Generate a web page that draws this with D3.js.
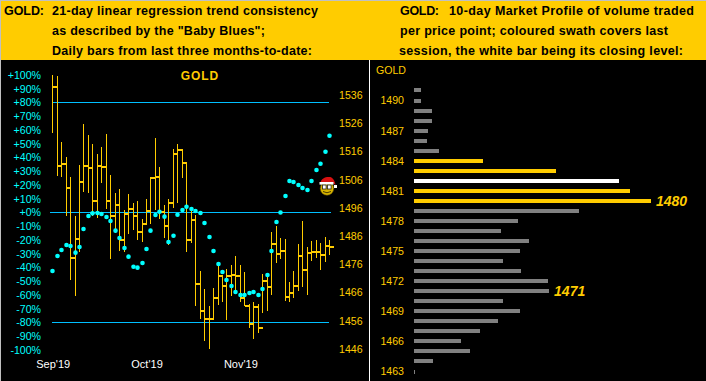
<!DOCTYPE html>
<html><head><meta charset="utf-8">
<script src="https://cdn.jsdelivr.net/npm/d3@7"></script>
<style>html,body{margin:0;padding:0;background:#000;overflow:hidden}svg{display:block}text{font-family:"Liberation Sans",Arial,sans-serif}</style>
</head><body><div id="c"></div>
<script>
const highs=[1543.1,1542.7,1519.3,1514.0,1506.9,1493.1,1511.2,1525.7,1521.8,1518.6,1515.1,1517.6,1522.2,1507.6,1501.3,1502.7,1495.2,1500.9,1497.7,1498.4,1492.1,1499.1,1506.8,1520.8,1510.5,1497.0,1499.1,1516.8,1518.6,1516.8,1511.4,1495.6,1493.5,1473.6,1467.2,1461.2,1467.5,1475.4,1471.6,1474.2,1475.8,1478.9,1475.8,1473.3,1461.8,1462.6,1461.8,1472.5,1472.7,1487.4,1489.6,1485.2,1484.9,1469.7,1473.6,1483.2,1491.3,1482.1,1484.3,1484.6,1483.5,1485.7,1484.6];
const lows=[1522.6,1507.3,1506.9,1493.2,1470.4,1464.9,1480.5,1501.7,1501.4,1493.1,1492.3,1504.9,1495.6,1478.0,1487.1,1480.8,1480.5,1486.7,1488.2,1484.6,1484.0,1490.7,1490.4,1495.2,1492.1,1485.4,1482.8,1496.1,1497.7,1506.5,1480.5,1483.7,1461.3,1456.6,1448.9,1446.1,1456.4,1461.6,1462.7,1456.3,1464.9,1466.3,1462.5,1461.2,1453.5,1449.5,1451.8,1458.9,1459.5,1465.1,1476.6,1478.0,1463.1,1462.7,1464.0,1466.6,1468.0,1465.1,1477.2,1478.2,1474.0,1476.8,1479.3];
const closes=[1538.9,1510.9,1511.5,1503.2,1478.3,1485.0,1505.2,1510.8,1510.2,1498.5,1510.9,1510.6,1498.5,1493.1,1497.1,1484.7,1493.9,1495.6,1493.1,1487.6,1490.3,1495.0,1506.7,1507.1,1494.6,1489.7,1497.8,1515.0,1516.6,1511.9,1484.7,1491.8,1469.0,1459.5,1456.6,1456.6,1464.2,1471.9,1468.4,1472.0,1472.2,1471.9,1464.2,1461.3,1454.9,1461.0,1453.5,1470.1,1468.0,1483.2,1479.7,1480.8,1464.5,1465.9,1468.3,1478.9,1474.1,1480.0,1480.5,1480.5,1479.3,1482.5,1482.2];
const babyBlues=[-42.5,-31.6,-27.3,-23.6,-24.4,-29.2,-25.1,-12,-2.5,-0.6,-0.4,-1.1,-3.3,-6.2,-13.2,-18.5,-25.8,-32.1,-39.4,-40.1,-36.7,-26.5,-13.2,-1.8,0.6,-3,-21.5,-16.9,-1.6,1.8,4.2,2.5,1.1,-0.4,-7.6,-17.8,-28,-37.5,-43.3,-49.1,-53.5,-57.8,-60,-60,-58.5,-57.8,-60,-55.6,-45.5,-28,-6.9,0,12,22.9,22.2,20,17.8,16.4,22.9,30.9,35.5,44.2,55.8];
const pctTicks=d3.range(-100,101,10);
const priceTicks=[1446,1456,1466,1476,1486,1496,1506,1516,1526,1536];
const refLevels=[80,0,-80];
const monthLabels=[["Sep'19",0],["Oct'19",21],["Nov'19",42]];
const profilePrices=d3.range(1491,1462,-1);
const profileVolume=[3,3,7.6,7.6,5.9,5.5,10.5,29.1,59.9,86.5,91.1,100,69.6,43.9,36.7,48.5,44.7,37.6,45.1,56.5,57,37.6,44.7,35.4,27.8,19.8,23.6,8,0.4];
const lastSession=[1484,1483,1481,1480];
const closeLevel=1482;
const profileTicks=[1490,1487,1484,1481,1478,1475,1472,1469,1466,1463];
const callouts=[1480,1471];
const headerLeft=["21-day linear regression trend consistency","as described by the \"Baby Blues\";","Daily bars from last three months-to-date:"];
const headerRight=["10-day Market Profile of volume traded","per price point; coloured swath covers last","session, the white bar being its closing level:"];

const YEL="#ffcc00",CY="#00ffff",LN="#00bfff";
const svg=d3.select("#c").append("svg").attr("width",706).attr("height",381);
svg.append("rect").attr("width",706).attr("height",381).attr("fill","#000");
svg.append("rect").attr("width",706).attr("height",60).attr("fill",YEL);
svg.append("rect").attr("width",706).attr("height",1).attr("fill","#c0c0c0");
svg.append("rect").attr("width",1).attr("height",381).attr("fill","#c0c0c0");
svg.append("rect").attr("x",369).attr("y",60).attr("width",1).attr("height",321).attr("fill","#fff");

// headers
const hdr=(x,y,t,len)=>svg.append("text").attr("x",x).attr("y",y).attr("font-size",12.5).attr("font-weight","bold").attr("fill","#000").attr("textLength",len).attr("lengthAdjust","spacing").text(t);
hdr(4,15,"GOLD:",40);
hdr(52,15,headerLeft[0],266);
hdr(52,35,headerLeft[1],213);
hdr(52,55,headerLeft[2],260);
hdr(400,15,"GOLD:",39);
hdr(449,15,headerRight[0],245);
hdr(400,35,headerRight[1],268);
hdr(399,55,headerRight[2],284);

// left panel scales
const x=d3.scaleLinear().domain([0,62]).range([52.7,329.7]);
const px=i=>Math.floor(x(i))+0.5;
const yP=d3.scaleLinear().domain([1536,1446]).range([95,349]);
const yPct=d3.scaleLinear().domain([100,-100]).range([75,350]);

// axes
const gl=svg.append("g").attr("transform","translate(41,0)").call(d3.axisLeft(yPct).tickValues(pctTicks).tickSize(0).tickPadding(0).tickFormat(d=>(d>=0?"+":"")+d+"%"));
gl.select(".domain").remove();
gl.selectAll("text").attr("fill",CY).attr("font-size",10.6).attr("font-family","Liberation Sans");
const gr=svg.append("g").attr("transform","translate(339,0)").call(d3.axisRight(yP).tickValues(priceTicks).tickSize(0).tickPadding(0).tickFormat(d3.format("d")));
gr.select(".domain").remove();
gr.selectAll("text").attr("fill",YEL).attr("font-size",10.6).attr("font-family","Liberation Sans");
const xa=d3.axisBottom(x).tickValues(monthLabels.map(d=>d[1])).tickSize(0).tickPadding(0).tickFormat(i=>monthLabels.find(m=>m[1]===i)[0]);
const gx=svg.append("g").attr("transform","translate(0,360)").call(xa);
gx.select(".domain").remove();
gx.selectAll("text").attr("fill","#fff").attr("font-size",11).attr("font-family","Liberation Sans");

svg.append("text").attr("x",200).attr("y",80).attr("text-anchor","middle").attr("font-size",12).attr("font-weight","bold").attr("fill",YEL).attr("letter-spacing",0.9).text("GOLD");

// reference lines
svg.append("g").attr("shape-rendering","crispEdges").selectAll("line").data(refLevels).join("line")
 .attr("x1",d=>d===0?50:52).attr("x2",d=>d===0?331:329)
 .attr("y1",d=>Math.floor(yPct(d))+.5).attr("y2",d=>Math.floor(yPct(d))+.5).attr("stroke",LN);

// daily bars
const idx=d3.range(closes.length);
const bars=svg.append("g").attr("shape-rendering","crispEdges");
bars.selectAll("line").data(idx).join("line")
 .attr("x1",px).attr("x2",px).attr("y1",i=>yP(highs[i])).attr("y2",i=>yP(lows[i])).attr("stroke",YEL);
bars.selectAll("rect").data(idx).join("rect")
 .attr("x",i=>px(i)).attr("width",4).attr("y",i=>Math.round(yP(closes[i]))-1).attr("height",2).attr("fill",YEL);

// baby blues
svg.append("g").selectAll("circle").data(babyBlues).join("circle")
 .attr("cx",(d,i)=>px(i)).attr("cy",d=>yPct(d)).attr("r",2.3).attr("fill",CY);

// santa smiley
const s=svg.append("g");
s.append("circle").attr("cx",327).attr("cy",188.5).attr("r",6.8).attr("fill","#d8b400").attr("stroke","#5a4a00").attr("stroke-width",.6);
s.append("path").attr("d","M320.5 183 C321 178 326 176.5 330 177 C333 177.5 335 181 335.5 185 L333 183 Z").attr("fill","#d81010");
s.append("rect").attr("x",319.5).attr("y",182).attr("width",14).attr("height",2.6).attr("fill","#fff");
s.append("rect").attr("x",334).attr("y",185).attr("width",3).attr("height",3).attr("fill","#fff");
s.append("rect").attr("x",322.5).attr("y",185).attr("width",3.6).attr("height",4).attr("fill","#fff").attr("stroke","#222").attr("stroke-width",.8);
s.append("rect").attr("x",327.5).attr("y",185).attr("width",3.6).attr("height",4).attr("fill","#fff").attr("stroke","#222").attr("stroke-width",.8);
s.append("path").attr("d","M323 191.5 Q327 194 331 191.5").attr("fill","none").attr("stroke","#332a00").attr("stroke-width",.9);

// right panel
const yV=d3.scaleLinear().domain([1490,1463]).range([100.5,371.5]);
const w=d3.scaleLinear().domain([0,100]).range([0,237]);
const prof=svg.append("g").attr("shape-rendering","crispEdges");
prof.selectAll("rect").data(profilePrices).join("rect")
 .attr("x",414).attr("y",d=>Math.round(yV(d))-2).attr("height",4)
 .attr("width",(d,i)=>Math.max(1,w(profileVolume[i])))
 .attr("fill",d=>d===closeLevel?"#fff":lastSession.includes(d)?YEL:"#808080");
const gv=svg.append("g").attr("transform","translate(404,0)").call(d3.axisLeft(yV).tickValues(profileTicks).tickSize(0).tickPadding(0).tickFormat(d3.format("d")));
gv.select(".domain").remove();
gv.selectAll("text").attr("fill",YEL).attr("font-size",10.6).attr("font-family","Liberation Sans");
svg.append("text").attr("x",376).attr("y",74).attr("font-size",10.6).attr("fill",YEL).text("GOLD");
svg.selectAll(".call").data(callouts).join("text").attr("class","call")
 .attr("x",d=>414+w(profileVolume[profilePrices.indexOf(d)])+5)
 .attr("y",d=>yV(d)+5).attr("font-size",14).attr("font-weight","bold").attr("font-style","italic").attr("fill",YEL).text(d=>d);
</script></body></html>
